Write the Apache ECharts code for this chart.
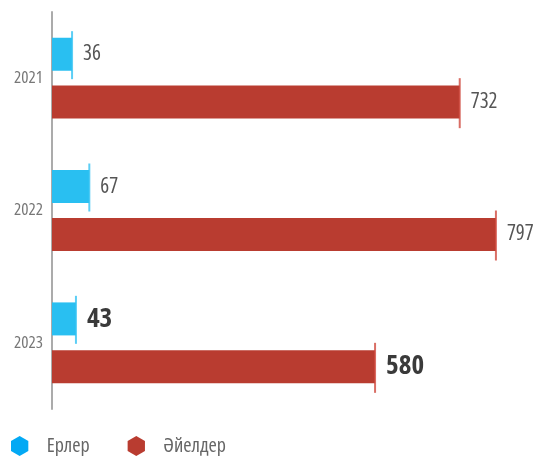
<!DOCTYPE html>
<html><head><meta charset="utf-8">
<script src="https://cdn.jsdelivr.net/npm/echarts@6/dist/echarts.min.js"></script>
<style>html,body{margin:0;padding:0;background:#fff}#c{width:534px;height:456px}</style>
</head><body><div id="c"></div>
<script>
const categories = ['2021', '2022', '2023'];
const menValues = [36, 67, 43];
const womenValues = [732, 797, 580];
const seriesNames = ['Ерлер', 'Әйелдер'];

const FONT = '"Open Sans", sans-serif';
const COND = 'condensed';
const BLUE = '#29bff1', RED = '#b93c30';
const hex = 'path://M0,-1 L0.866,-0.5 L0.866,0.5 L0,1 L-0.866,0.5 L-0.866,-0.5 Z';
const last = categories.length - 1;

function barData(vals) {
  return vals.map((v, i) => i === last
    ? { value: v, label: { fontSize: 27, fontWeight: 'bold ' + COND, color: '#3a3a3a' } }
    : v);
}
function endData(vals) { return vals.map((v, i) => [v, categories[i]]); }

const chart = echarts.init(document.getElementById('c'));
chart.setOption({
  animation: false,
  grid: { left: 52, top: 12, width: 445.6, height: 397 },
  xAxis: { type: 'value', min: 0, max: 800, show: false },
  yAxis: {
    type: 'category', data: categories, inverse: true,
    axisLine: { lineStyle: { color: '#ababab', width: 2 } },
    axisTick: { show: false },
    axisLabel: { color: '#777', fontFamily: FONT, fontWeight: COND, fontSize: 17, margin: 9, lineHeight: 24, verticalAlign: 'middle', padding: [6, 0, 0, 0] }
  },
  legend: {
    left: 6, top: 431, itemWidth: 20, itemHeight: 20, itemGap: 38,
    textStyle: { fontFamily: FONT, fontWeight: COND, fontSize: 20, color: '#666', padding: [0, 0, 0, 12] },
    data: [
      { name: seriesNames[0], icon: hex, itemStyle: { color: '#03a9f4' } },
      { name: seriesNames[1], icon: hex, itemStyle: { color: RED } }
    ]
  },
  series: [
    {
      name: seriesNames[0], type: 'bar', data: barData(menValues),
      barWidth: 33, barGap: '45%', itemStyle: { color: BLUE },
      label: { show: true, position: 'right', distance: 11, fontFamily: FONT, fontWeight: COND, fontSize: 21, color: '#555' }
    },
    {
      name: seriesNames[1], type: 'bar', data: barData(womenValues),
      barWidth: 33, barGap: '45%', itemStyle: { color: RED },
      label: { show: true, position: 'right', distance: 11, fontFamily: FONT, fontWeight: COND, fontSize: 21, color: '#555' }
    },
    {
      type: 'scatter', data: endData(menValues), symbol: 'rect',
      symbolSize: [2, 48], symbolOffset: [0, -23], itemStyle: { color: '#33c2f2' }, z: 5, silent: true
    },
    {
      type: 'scatter', data: endData(womenValues), symbol: 'rect',
      symbolSize: [2, 50], symbolOffset: [0, 25], itemStyle: { color: '#d04a3e' }, z: 5, silent: true
    }
  ]
});
</script></body></html>
